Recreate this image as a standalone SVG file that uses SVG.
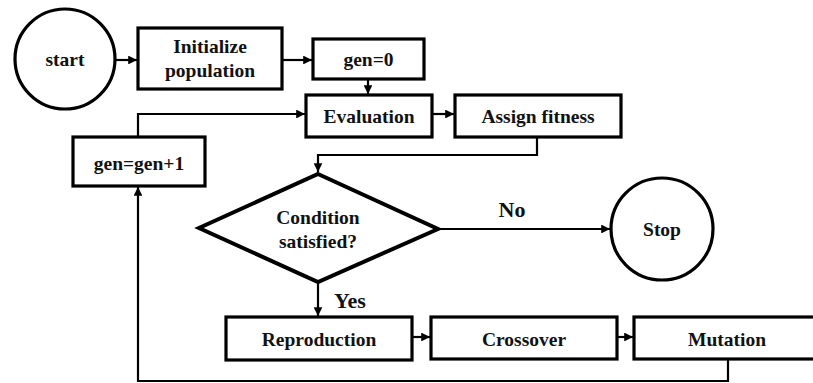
<svg xmlns="http://www.w3.org/2000/svg" width="813" height="383" viewBox="0 0 813 383">
<style>
.box{fill:#fff;stroke:#000;stroke-width:3.2}
.circ{fill:#fff;stroke:#000;stroke-width:3.2}
.dia{fill:#fff;stroke:#000;stroke-width:4}
.t{font-family:"Liberation Serif","Times New Roman",serif;font-weight:bold;font-size:19.5px;text-anchor:middle;fill:#111}
.lbl{font-family:"Liberation Serif","Times New Roman",serif;font-weight:bold;font-size:22px;text-anchor:middle;fill:#111}
.c{fill:none;stroke:#000;stroke-width:2.2}
</style>
<defs>
<marker id="ah" viewBox="0 0 10 10" refX="10" refY="5" markerWidth="4" markerHeight="4" markerUnits="strokeWidth" orient="auto">
<path d="M0,0 L10,5 L0,10 z" fill="#000"/>
</marker>
</defs>
<rect width="813" height="383" fill="#fff"/>
<g id="connectors">
<path class="c" d="M115,60 H137" marker-end="url(#ah)"/>
<path class="c" d="M282,60 H312" marker-end="url(#ah)"/>
<path class="c" d="M368,79 V94" marker-end="url(#ah)"/>
<path class="c" d="M432,114 H454" marker-end="url(#ah)"/>
<path class="c" d="M537,137 V155 H318 V172" marker-end="url(#ah)"/>
<path class="c" d="M138,136 V114 H305" marker-end="url(#ah)"/>
<path class="c" d="M438,229 H610" marker-end="url(#ah)"/>
<path class="c" d="M318,282 V316" marker-end="url(#ah)"/>
<path class="c" d="M412,337 H430" marker-end="url(#ah)"/>
<path class="c" d="M617,337 H633" marker-end="url(#ah)"/>
<path class="c" d="M728,359 V381 H138 V187" marker-end="url(#ah)"/>
</g>
<g id="start"><circle class="circ" cx="65" cy="59" r="50"/><text class="t" x="65" y="66">start</text></g>
<g id="init"><rect class="box" x="138" y="28" width="144" height="61"/><text class="t" x="210" y="53">Initialize</text><text class="t" x="210" y="77">population</text></g>
<g id="gen0"><rect class="box" x="313" y="39" width="111" height="40"/><text class="t" x="368.5" y="66">gen=0</text></g>
<g id="eval"><rect class="box" x="306" y="95" width="126" height="42"/><text class="t" x="369" y="123">Evaluation</text></g>
<g id="assign"><rect class="box" x="455" y="95" width="166" height="42"/><text class="t" x="538" y="123">Assign fitness</text></g>
<g id="genplus"><rect class="box" x="73" y="137" width="132" height="49"/><text class="t" x="139" y="170">gen=gen+1</text></g>
<g id="cond"><polygon class="dia" points="318,174 438,229 318,282 199,228"/><text class="t" x="318" y="224">Condition</text><text class="t" x="318" y="248">satisfied?</text></g>
<g id="stop"><circle class="circ" cx="662" cy="229" r="51"/><text class="t" x="662" y="236">Stop</text></g>
<g id="repro"><rect class="box" x="226" y="317" width="186" height="43"/><text class="t" x="319" y="346">Reproduction</text></g>
<g id="cross"><rect class="box" x="431" y="317" width="186" height="42"/><text class="t" x="524" y="346">Crossover</text></g>
<g id="mut"><rect class="box" x="634" y="317" width="186" height="42"/><text class="t" x="727" y="346">Mutation</text></g>
<g id="labels"><text class="lbl" x="512" y="217">No</text><text class="lbl" x="350" y="308">Yes</text></g>
</svg>
